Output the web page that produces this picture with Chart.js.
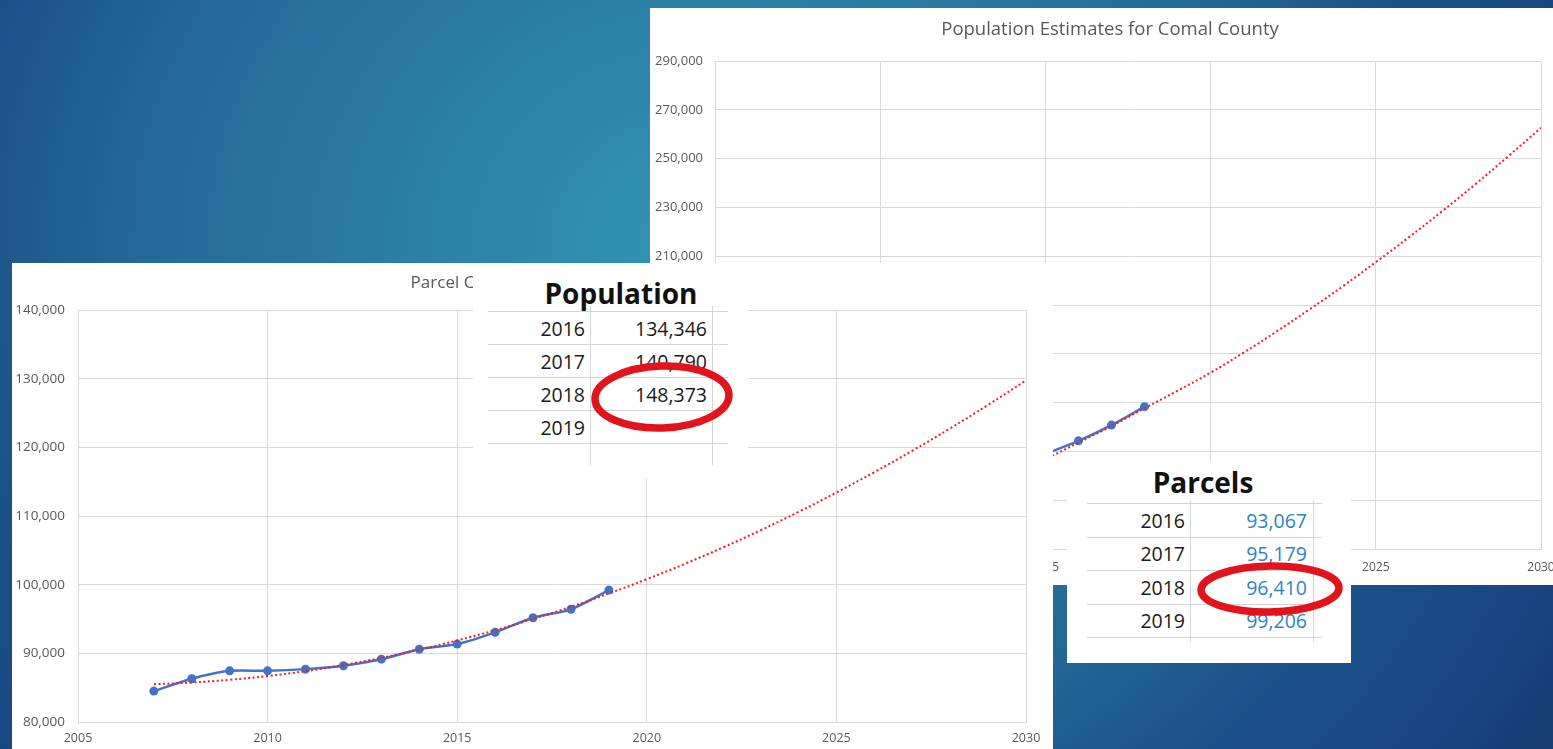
<!DOCTYPE html>
<html>
<head>
<meta charset="utf-8">
<script src="https://cdn.jsdelivr.net/npm/chart.js@4.4.1/dist/chart.umd.min.js"></script>
<style>
html, body { margin: 0; padding: 0; width: 1553px; height: 749px; overflow: hidden; }
body {
  position: relative;
  background: radial-gradient(ellipse 1000px 900px at 700px 250px,
    #3396b5 0%, #2b7ea5 30%, #246a98 55%, #1c5088 75%, #194783 90%, #163c72 100%);
}
.panel { position: absolute; background: #fff; overflow: hidden; }
.panel canvas { display: block; }
.tbl { position: absolute; background: #fff; font-family: "Open Sans", sans-serif; }
.tbl .ttl { position: absolute; font-weight: 700; font-size: 28px; color: #111; white-space: nowrap; transform: translate(-50%, -50%); line-height: 1; }
.tbl .hl { position: absolute; height: 1px; background: #d4d4d4; }
.tbl .vl { position: absolute; width: 1px; background: #d4d4d4; }
.tbl .cell { position: absolute; font-size: 19.5px; white-space: nowrap; text-align: right; transform: translateY(-50%); line-height: 1; }
svg.marks { position: absolute; left: 0; top: 0; pointer-events: none; }
</style>
</head>
<body>

<div class="panel" style="left:650px; top:8px; width:920px; height:577px;">
  <canvas id="popChart" width="920" height="577"></canvas>
</div>
<div class="panel" style="left:12px; top:263px; width:1041px; height:500px;">
  <canvas id="parChart" width="1041" height="500"></canvas>
</div>
<div id="popTable" class="tbl" style="left:473px; top:270px; width:275px; height:208px;"></div>
<div id="parTable" class="tbl" style="left:1067px; top:462px; width:284px; height:201px;"></div>

<svg class="marks" width="1553" height="749">
  <ellipse cx="662" cy="397" rx="67" ry="31" fill="none" stroke="#e2131b" stroke-width="7.5" transform="rotate(-2 662 397)"/>
  <ellipse cx="1270" cy="589" rx="69" ry="23" fill="none" stroke="#e2131b" stroke-width="7.5" transform="rotate(-1 1270 589)"/>
</svg>

<script>
// ---------- Data ----------
// Parcel chart (front)
const parcelYears  = [2007, 2008, 2009, 2010, 2011, 2012, 2013, 2014, 2015, 2016, 2017, 2018, 2019];
const parcelCounts = [84500, 86300, 87450, 87450, 87700, 88200, 89150, 90600, 91350, 93067, 95179, 96410, 99206];
const parcelTrendYears = [2007, 2008, 2009, 2010, 2011, 2012, 2013, 2014, 2015, 2016, 2017, 2018,
                          2019, 2020, 2021, 2022, 2023, 2024, 2025, 2026, 2027, 2028, 2029, 2030];
const parcelTrend = [85500, 85750, 86150, 86700, 87400, 88300, 89340, 90540, 91880, 93360, 95000, 96780,
                     98720, 100800, 103020, 105400, 107920, 110600, 113420, 116380, 119500, 122760, 126180, 129740];

// Population chart (back)
const popYears  = [2010, 2011, 2012, 2013, 2014, 2015, 2016, 2017, 2018];
const popValues = [108500, 111800, 114900, 118500, 123700, 129000, 134346, 140790, 148373];
const popTrendYears = [2010, 2011, 2012, 2013, 2014, 2015, 2016, 2017, 2018, 2019, 2020,
                       2021, 2022, 2023, 2024, 2025, 2026, 2027, 2028, 2029, 2030];
const popTrend = [101000, 105400, 110100, 115300, 120800, 126900, 133600, 140400, 147700, 154900, 162300,
                  170500, 179200, 188300, 197700, 207600, 217800, 228400, 239400, 250900, 262700];

// Axis ranges / tick labels
const xAxisRange   = [2005, 2030, 5];
const parcelYRange = [80000, 140000, 10000];
const popYRange    = [90000, 290000, 20000];

// Tables
const popTableTitle  = "Population";
const popTableYears  = ["2016", "2017", "2018", "2019"];
const popTableValues = ["134,346", "140,790", "148,373", ""];
const parTableTitle  = "Parcels";
const parTableYears  = ["2016", "2017", "2018", "2019"];
const parTableValues = ["93,067", "95,179", "96,410", "99,206"];

const chartTitles = ["Population Estimates for Comal County", "Parcel Count for Comal County"];

// ---------- Charts ----------
function pts(xs, ys) { return xs.map((x, i) => ({ x: x, y: ys[i] })); }

function makeChart(id, o) {
  const tickColor = '#595959';
  const gridColor = '#d9d9d9';
  return new Chart(document.getElementById(id), {
    type: 'line',
    data: {
      datasets: [
        { data: pts(o.trendX, o.trendY), borderColor: '#ee1c24', borderWidth: 2, borderDash: [2, 2.5],
          pointRadius: 0, tension: 0.4, fill: false },
        { data: pts(o.x, o.y), borderColor: '#4472c4', backgroundColor: '#4472c4', borderWidth: 2.5,
          pointRadius: 4.5, pointBorderWidth: 0, pointBackgroundColor: '#4472c4', tension: 0.3, fill: false }
      ]
    },
    options: {
      responsive: false, animation: false, events: [],
      layout: { padding: 0 },
      plugins: {
        legend: { display: false },
        tooltip: { enabled: false },
        title: { display: true, text: o.title, color: tickColor,
                 font: { family: 'Open Sans', size: o.titleSize, weight: 'normal' },
                 padding: { top: o.tpTop, bottom: o.tpBottom } }
      },
      scales: {
        x: {
          type: 'linear', min: xAxisRange[0], max: xAxisRange[1],
          ticks: { stepSize: xAxisRange[2], callback: v => String(v), color: tickColor,
                   font: { family: 'Open Sans', size: o.xTickSize }, padding: o.xPad, maxRotation: 0 },
          grid: { color: gridColor, drawTicks: false },
          border: { color: gridColor },
          afterFit: s => { s.height = o.xH; }
        },
        y: {
          type: 'linear', min: o.yRange[0], max: o.yRange[1],
          ticks: { stepSize: o.yRange[2], callback: v => v.toLocaleString('en-US'), color: tickColor,
                   font: { family: 'Open Sans', size: o.yTickSize }, padding: o.yPad },
          grid: { color: gridColor, drawTicks: false },
          border: { color: gridColor },
          afterFit: s => { s.width = o.yW; }
        },
        spacer: {
          type: 'linear', position: 'right', display: true,
          grid: { display: false }, ticks: { display: false }, border: { display: false },
          afterFit: s => { s.width = o.rightW; }
        }
      }
    }
  });
}

makeChart('popChart', {
  x: popYears, y: popValues, trendX: popTrendYears, trendY: popTrend,
  yRange: popYRange, title: chartTitles[0], titleSize: 18.5, tpTop: 11, tpBottom: 20,
  xTickSize: 12, yTickSize: 13, xPad: 11, yPad: 12, xH: 36, yW: 65, rightW: 29
});

makeChart('parChart', {
  x: parcelYears, y: parcelCounts, trendX: parcelTrendYears, trendY: parcelTrend,
  yRange: parcelYRange, title: chartTitles[1], titleSize: 17, tpTop: 10, tpBottom: 16.6,
  xTickSize: 12.5, yTickSize: 13.5, xPad: 9, yPad: 13, xH: 41, yW: 66, rightW: 27
});

// ---------- Tables ----------
function buildTable(el, title, years, values, g) {
  const add = (cls, css, text) => {
    const d = document.createElement('div');
    d.className = cls;
    Object.assign(d.style, css);
    if (text !== undefined) d.textContent = text;
    el.appendChild(d);
    return d;
  };
  add('ttl', { left: g.titleX + 'px', top: g.titleY + 'px' }, title);
  g.rows.forEach(y => add('hl', { left: g.lineX0 + 'px', top: y + 'px', width: (g.lineX1 - g.lineX0) + 'px' }));
  g.cols.forEach(x => add('vl', { left: x + 'px', top: g.colY0 + 'px', height: (g.colY1 - g.colY0) + 'px' }));
  years.forEach((yr, i) => {
    const cy = (g.rows[i] + g.rows[i + 1]) / 2 + 1;
    add('cell', { right: (el.clientWidth - g.yearRight) + 'px', top: cy + 'px', color: '#1a1a1a' }, yr);
    add('cell', { right: (el.clientWidth - g.valRight) + 'px', top: cy + 'px', color: g.valColor }, values[i]);
  });
}

buildTable(document.getElementById('popTable'), popTableTitle, popTableYears, popTableValues, {
  titleX: 148, titleY: 23, rows: [41, 74, 107, 140, 173], lineX0: 15, lineX1: 255,
  cols: [117, 239], colY0: 36, colY1: 195, yearRight: 112, valRight: 234, valColor: '#1a1a1a'
});

buildTable(document.getElementById('parTable'), parTableTitle, parTableYears, parTableValues, {
  titleX: 136, titleY: 20, rows: [41, 74.5, 108, 141.5, 175], lineX0: 20, lineX1: 255,
  cols: [123, 246], colY0: 38, colY1: 180, yearRight: 118, valRight: 240, valColor: '#2f82c8'
});
</script>
</body>
</html>
